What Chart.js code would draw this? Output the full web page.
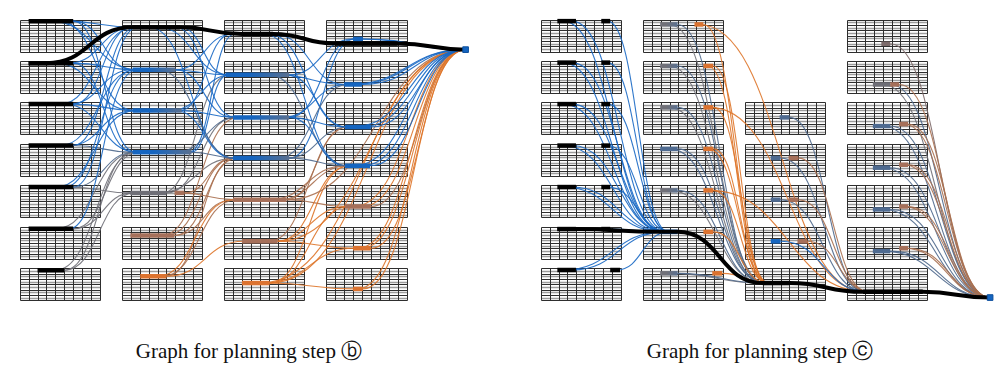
<!DOCTYPE html>
<html>
<head>
<meta charset="utf-8">
<script src="https://cdn.jsdelivr.net/npm/chart.js@4.4.1/dist/chart.umd.min.js"></script>
<style>
  body { margin: 0; background: #fff; }
  #wrap { position: relative; width: 1000px; height: 365px; overflow: hidden; }
  .panel { position: absolute; top: 0; height: 320px; }
  .cap { position: absolute; top: 337px; width: 400px; text-align: center;
         font-family: "Liberation Serif", "DejaVu Serif", serif; font-size: 21px; color: #111; }
</style>
</head>
<body>
<div id="wrap">
  <div class="panel" style="left:0;width:500px"><canvas id="graphB"></canvas></div>
  <div class="panel" style="left:521px;width:479px"><canvas id="graphC"></canvas></div>
  <div class="cap" style="left:49px">Graph for planning step ⓑ</div>
  <div class="cap" style="left:560px">Graph for planning step ⓒ</div>
</div>
<script>
// which table rows exist in each layer (layer index -> rows)
const blockRowsB = [[0,1,2,3,4,5,6],[0,1,2,3,4,5,6],[0,1,2,3,4,5,6],[0,1,2,3,4,5,6]];
const blockRowsC = [[0,1,2,3,4,5,6],[0,1,2,3,4,5,6],[2,3,4,5,6],[0,1,2,3,4,5,6]];

// nodes: [id, layer, row, cellFrom, cellTo, subRow, kind]
const nodesB = [
  ['A0',0,0,1.0,6.0,0.6,'k'], ['A1',0,1,1.0,6.0,0.8,'k'], ['A2',0,2,1.0,6.0,0.6,'k'],
  ['A3',0,3,1.0,6.0,0.6,'k'], ['A4',0,4,1.0,6.0,0.6,'k'], ['A5',0,5,1.0,6.0,0.7,'k'],
  ['A6',0,6,2.0,5.0,0.7,'k'],
  ['B0',1,0,1.2,6.5,2.9,'k'], ['B1',1,1,1.2,6.0,3.3,'bs'], ['B2',1,2,1.2,6.7,3.05,'bs'],
  ['B3',1,3,1.2,7.8,3.1,'bs'], ['B4',1,4,0.95,5.0,2.8,'g'], ['B4x',1,4,5.9,7.0,2.8,'n'],
  ['B5',1,5,0.95,5.9,3.2,'n'], ['B6',1,6,2.05,5.0,2.95,'o'],
  ['C0',2,0,2.0,5.5,5.45,'k'], ['C1',2,1,0.15,7.3,5.2,'bs'], ['C2',2,2,1.0,7.3,5.6,'bs'],
  ['C3',2,3,1.0,7.3,5.3,'bs'], ['C4',2,4,1.0,7.0,5.35,'n'], ['C5',2,5,2.0,6.0,5.4,'n'],
  ['C6',2,6,2.0,5.1,5.5,'o'],
  ['D0',3,0,1.0,8.0,9.0,'k'], ['D0x',3,0,3.0,4.1,7.3,'b'], ['D1',3,1,2.0,4.0,8.8,'b'],
  ['D2',3,2,2.1,5.0,9.2,'b'], ['D3',3,3,2.1,4.9,8.2,'b'], ['D4',3,4,2.1,5.0,7.9,'n'],
  ['D5',3,5,3.0,5.0,8.0,'o'], ['D6',3,6,3.0,4.1,7.7,'o'],
  ['Z',4,0,4.16,4.16,11.3,'sink']
];

// edges: [from, fromCell, to, toCell, kind]
const edgesB = [
  ['A5',4.0,'B3',1.5,'g'], ['A5',6.0,'B3',1.9,'g'], ['A5',6.0,'B4',1.2,'g'],
  ['A6',4.0,'B3',1.6,'g'], ['A6',5.0,'B3',1.3,'g'], ['A6',5.0,'B4',1.4,'g'], ['A4',5.5,'B4',1.0,'g'],
  ['A0',5.0,'B0',1.5,'b'], ['A0',6.0,'B1',1.3,'b'], ['A0',4.5,'B2',1.4,'b'], ['A0',6.0,'B3',1.6,'b'],
  ['A0',3.5,'B1',1.8,'b'],
  ['A1',5.5,'B0',1.3,'b'], ['A1',6.0,'B1',1.5,'b'], ['A1',4.0,'B2',1.2,'b'], ['A1',6.0,'B3',1.3,'b'],
  ['A2',4.5,'B0',1.4,'b'], ['A2',6.0,'B0',1.2,'b'], ['A2',5.5,'B1',1.2,'b'], ['A2',6.0,'B2',1.6,'b'],
  ['A2',5.0,'B3',1.8,'b'],
  ['A3',6.0,'B0',1.6,'b'], ['A3',4.5,'B1',1.6,'b'], ['A3',5.5,'B2',1.3,'b'], ['A3',6.0,'B3',1.2,'s'],
  ['A4',6.0,'B0',1.8,'b'], ['A4',5.0,'B1',1.4,'b'], ['A4',4.0,'B2',1.5,'b'], ['A4',6.0,'B3',1.4,'s'],
  ['A5',5.5,'B1',1.7,'b'],
  ['B4',4.5,'C1',0.6,'g'], ['B4',5.0,'C2',1.2,'g'], ['B4',4.0,'C3',1.2,'g'],
  ['B4x',7.0,'C3',1.0,'n'], ['B4x',6.5,'C4',1.2,'n'],
  ['B5',5.0,'C3',1.1,'n'], ['B5',5.9,'C3',1.5,'n'], ['B5',5.9,'C4',1.0,'n'], ['B5',4.5,'C2',1.6,'n'],
  ['B6',5.0,'C3',1.3,'n'], ['B6',4.5,'C4',1.4,'n'], ['B6',5.0,'C5',2.2,'o'], ['B6',4.0,'C4',1.0,'o'],
  ['B0',4.0,'C1',0.5,'b'], ['B0',6.0,'C2',1.2,'b'], ['B0',3.0,'C3',1.0,'b'], ['B0',6.5,'C1',0.3,'b'],
  ['B1',6.0,'C0',1.0,'b'], ['B1',5.5,'C1',0.5,'b'], ['B1',6.0,'C2',1.0,'b'], ['B1',4.0,'C3',1.2,'s'],
  ['B2',6.5,'C0',0.8,'b'], ['B2',5.5,'C1',0.8,'b'], ['B2',6.7,'C2',1.3,'b'], ['B2',6.0,'C3',1.0,'b'],
  ['B3',7.5,'C0',1.2,'b'], ['B3',7.8,'C1',0.4,'b'], ['B3',6.0,'C2',1.5,'s'], ['B3',7.8,'C3',1.4,'s'],
  ['C4',7.0,'D2',2.3,'n'], ['C4',6.0,'D3',2.5,'n'], ['C4',7.0,'D4',2.2,'n'], ['C4',5.0,'D3',2.2,'n'],
  ['C5',6.0,'D3',2.6,'o'], ['C5',5.5,'D4',2.4,'o'], ['C5',6.0,'D5',3.1,'o'], ['C5',5.0,'D2',2.5,'n'],
  ['C6',5.1,'D4',2.6,'o'], ['C6',4.5,'D5',3.2,'o'], ['C6',5.0,'D6',3.1,'o'], ['C6',5.1,'D3',2.6,'o'],
  ['C0',5.5,'D1',2.1,'b'], ['C0',5.0,'D2',2.2,'b'], ['C0',4.5,'D3',2.2,'b'],
  ['C1',7.3,'D0x',3.0,'b'], ['C1',6.0,'D1',2.2,'b'], ['C1',7.0,'D2',2.3,'b'], ['C1',5.0,'D3',2.3,'s'],
  ['C2',7.3,'D0x',3.1,'b'], ['C2',6.5,'D1',2.3,'b'], ['C2',7.0,'D2',2.4,'b'], ['C2',7.3,'D3',2.2,'b'],
  ['C3',7.3,'D0x',3.2,'b'], ['C3',6.0,'D1',2.4,'s'], ['C3',7.0,'D2',2.5,'s'], ['C3',7.3,'D3',2.4,'s'],
  ['C4',7.0,'Z',4.16,'n'], ['C5',6.0,'Z',4.16,'o'], ['C6',5.1,'Z',4.16,'o'], ['C6',4.0,'Z',4.16,'o'],
  ['D4',5.0,'Z',4.16,'n'], ['D4',4.0,'Z',4.16,'o'], ['D4',3.0,'Z',4.16,'o'],
  ['D5',5.0,'Z',4.16,'o'], ['D5',4.0,'Z',4.16,'o'], ['D5',3.5,'Z',4.16,'o'],
  ['D6',4.1,'Z',4.16,'o'], ['D6',3.5,'Z',4.16,'o'],
  ['D0x',4.1,'Z',4.16,'b'], ['D0x',3.5,'Z',4.16,'b'],
  ['D1',4.0,'Z',4.16,'b'], ['D1',3.0,'Z',4.16,'b'], ['D1',2.5,'Z',4.16,'b'],
  ['D2',5.0,'Z',4.16,'b'], ['D2',4.0,'Z',4.16,'b'], ['D2',3.0,'Z',4.16,'b'],
  ['D3',4.9,'Z',4.16,'b'], ['D3',4.0,'Z',4.16,'b'], ['D3',3.0,'Z',4.16,'b']
];

// highlighted path: [node, cellIn, cellOut]
const pathB = [['A1',1.0,3.0], ['B0',1.2,6.5], ['C0',2.0,5.5], ['D0',1.0,8.0], ['Z',4.16,4.16]];

const nodesC = [
  ['A0a',0,0,1.87,3.96,0.6,'k'], ['A0b',0,0,6.8,7.8,0.6,'k'],
  ['A1a',0,1,1.87,3.96,0.6,'k'], ['A1b',0,1,6.8,7.8,0.6,'k'],
  ['A2a',0,2,1.87,3.96,0.6,'k'], ['A2b',0,2,6.8,7.8,0.6,'k'],
  ['A3a',0,3,1.87,3.96,0.6,'k'], ['A3b',0,3,6.8,7.8,0.6,'k'],
  ['A4a',0,4,1.87,3.96,0.6,'k'], ['A4b',0,4,6.8,7.8,0.6,'k'],
  ['A5a',0,5,1.87,3.96,0.8,'k'], ['A5b',0,5,6.8,7.8,0.8,'k'],
  ['A6a',0,6,1.87,3.96,0.6,'k'], ['A6b',0,6,7.8,8.9,0.6,'k'],
  ['B0g',1,0,1.95,3.9,1.85,'gs'], ['B0o',1,0,5.8,6.8,1.85,'o'],
  ['B1g',1,1,1.95,3.9,1.85,'gs'], ['B1o',1,1,6.8,7.9,1.85,'o'],
  ['B2g',1,2,1.95,3.9,1.85,'gs'], ['B2o',1,2,6.8,7.9,1.85,'o'],
  ['B3g',1,3,1.95,3.9,1.85,'s'],  ['B3o',1,3,6.8,7.9,1.85,'o'],
  ['B4g',1,4,1.95,3.9,1.85,'gs'], ['B4o',1,4,6.8,7.9,1.85,'o'],
  ['B5g',1,5,1.95,3.9,1.85,'b'],  ['B5o',1,5,6.8,7.9,1.85,'o'],
  ['B6g',1,6,1.95,3.9,1.85,'gs'], ['B6o',1,6,7.8,8.9,1.85,'o'],
  ['C2',2,2,3.9,5.0,5.6,'s'],
  ['C3b',2,3,2.9,4.0,5.3,'s'], ['C3n',2,3,4.9,6.0,5.3,'n'],
  ['C4b',2,4,2.9,4.0,5.35,'s'], ['C4n',2,4,4.9,6.0,5.35,'n'],
  ['C5b',2,5,2.9,4.0,5.4,'b'], ['C5n',2,5,5.9,7.0,5.4,'n'],
  ['C6',2,6,2.0,5.0,5.5,'k'],
  ['D0',3,0,3.85,4.85,9.1,'gn'],
  ['D1g',3,1,2.9,4.85,8.8,'g'], ['D1n',3,1,4.85,5.85,8.8,'n'],
  ['D2g',3,2,2.9,4.85,8.85,'s'], ['D2o',3,2,5.85,6.85,8.1,'n'],
  ['D3g',3,3,2.9,4.85,8.9,'s'], ['D3o',3,3,5.85,6.85,7.8,'n'],
  ['D4g',3,4,2.9,4.85,9.0,'s'], ['D4o',3,4,5.85,6.85,7.9,'n'],
  ['D5g',3,5,2.9,4.85,9.1,'s'], ['D5o',3,5,5.85,6.85,8.0,'n'],
  ['D6',3,6,1.8,8.5,8.8,'k'],
  ['Z',4,6,4.6,4.6,10.94,'sink']
];

const edgesC = [
  ['B0g',3.0,'C6',2.3,'g'], ['B0g',3.9,'C6',2.0,'s'], ['B0o',6.8,'C6',2.6,'o'],
  ['B1g',3.0,'C6',2.3,'g'], ['B1g',3.9,'C6',2.1,'s'], ['B1o',7.9,'C6',2.6,'o'], ['B1o',7.3,'C6',2.4,'o'],
  ['B2g',3.0,'C6',2.2,'g'], ['B2g',3.9,'C6',2.0,'s'], ['B2o',7.9,'C6',2.7,'o'],
  ['B3g',3.0,'C6',2.3,'s'], ['B3g',3.9,'C6',2.1,'s'], ['B3o',7.9,'C6',2.5,'o'], ['B3o',7.3,'C6',2.8,'o'],
  ['B4g',3.0,'C6',2.2,'g'], ['B4g',3.9,'C6',2.0,'s'], ['B4o',7.9,'C6',2.6,'o'],
  ['B5o',7.9,'C6',2.5,'o'], ['B5g',3.9,'C6',2.2,'b'],
  ['B6g',3.0,'C6',2.1,'g'], ['B6g',3.9,'C6',2.3,'s'], ['B6o',8.9,'C6',2.7,'o'],
  ['B0o',6.3,'D6',2.0,'o'], ['B2o',7.5,'D6',2.2,'o'], ['B4o',7.5,'D6',2.3,'o'],
  ['A0a',2.5,'B5g',2.3,'b'], ['A0a',3.5,'B5g',2.6,'b'], ['A0b',7.5,'B5g',2.9,'b'],
  ['A1a',2.5,'B5g',2.2,'b'], ['A1a',3.5,'B5g',2.5,'b'], ['A1b',7.5,'B5g',2.8,'b'],
  ['A2a',2.5,'B5g',2.4,'b'], ['A2a',3.5,'B5g',2.7,'b'], ['A2b',7.5,'B5g',3.0,'b'],
  ['A3a',2.5,'B5g',2.3,'b'], ['A3a',3.5,'B5g',2.6,'b'], ['A3b',7.5,'B5g',2.9,'b'],
  ['A4a',2.5,'B5g',2.2,'b'], ['A4a',3.5,'B5g',2.5,'b'], ['A4b',7.5,'B5g',2.8,'b'],
  ['A5b',7.5,'B5g',2.4,'b'],
  ['A6a',2.5,'B5g',2.3,'b'], ['A6a',3.5,'B5g',2.6,'b'], ['A6b',8.5,'B5g',2.9,'b'],
  ['C2',5.0,'D6',2.0,'s'], ['C3b',4.0,'D6',2.2,'s'], ['C3n',6.0,'D6',2.4,'n'],
  ['C4b',4.0,'D6',2.1,'s'], ['C4n',6.0,'D6',2.5,'n'], ['C5b',4.0,'D6',2.3,'b'], ['C5n',7.0,'D6',2.6,'n'],
  ['D0',4.85,'Z',4.6,'gn'],
  ['D1g',4.0,'Z',4.6,'g'], ['D1g',4.85,'Z',4.6,'s'], ['D1n',5.85,'Z',4.6,'n'],
  ['D2g',4.0,'Z',4.6,'s'], ['D2g',4.85,'Z',4.6,'s'], ['D2o',6.4,'Z',4.6,'n'], ['D2o',6.85,'Z',4.6,'n'],
  ['D3g',4.0,'Z',4.6,'s'], ['D3g',4.85,'Z',4.6,'s'], ['D3o',6.4,'Z',4.6,'n'], ['D3o',6.85,'Z',4.6,'n'],
  ['D4g',4.0,'Z',4.6,'s'], ['D4g',4.85,'Z',4.6,'s'], ['D4o',6.4,'Z',4.6,'n'], ['D4o',6.85,'Z',4.6,'n'],
  ['D5g',4.0,'Z',4.6,'s'], ['D5g',4.85,'Z',4.6,'s'], ['D5o',6.4,'Z',4.6,'n'], ['D5o',6.85,'Z',4.6,'n']
];

const pathC = [['A5a',1.87,3.96], ['B5g',1.95,3.9], ['C6',2.0,5.0], ['D6',1.8,8.5], ['Z',4.6,4.6]];

// layout of the tables, in cell / sub-row units
const LAYER_PITCH = 11.46;
const ROW_PITCH = 15.57;
const CELLS = 9, SUBROWS = 12;

const edgeColors = {
  b: 'rgba(24,104,196,0.9)', s: 'rgba(78,104,140,0.9)', g: 'rgba(112,112,120,0.9)',
  n: 'rgba(170,112,80,0.9)', o: 'rgba(222,118,42,0.9)', gn: 'rgba(125,105,105,0.9)'
};
const barColors = {
  k: '#000', b: '#1565c0', s: '#4e6a90', g: '#6e6e76', n: '#a6705a', o: '#dc7330', gn: '#7d6b6b'
};

const gx = (layer, cell) => layer * LAYER_PITCH + cell;
const gy = (row, sub) => row * ROW_PITCH + sub;

function graphPlugin(blockRows, nodes, edges, path) {
  const byId = {};
  nodes.forEach(n => { byId[n[0]] = n; });
  return {
    id: 'graph',
    beforeDatasetsDraw(chart) {
      const ctx = chart.ctx, xs = chart.scales.x, ys = chart.scales.y;
      const px = (l, c) => xs.getPixelForValue(gx(l, c));
      const py = (r, s) => ys.getPixelForValue(gy(r, s));
      const pt = (id, cell) => { const n = byId[id]; return { x: px(n[1], cell), y: py(n[2], n[5]) }; };
      ctx.save();

      // tables: dark rules with grey bands between them
      blockRows.forEach((rows, layer) => {
        rows.forEach(row => {
          const x0 = Math.round(px(layer, 0)) + 0.5, x1 = Math.round(px(layer, CELLS)) + 0.5;
          const y0 = Math.round(py(row, 0)) + 0.5, y1 = Math.round(py(row, SUBROWS)) + 0.5;
          for (let i = 1; i < SUBROWS; i++) {
            const y = Math.round(py(row, i)) + 0.5;
            if (i % 2) { ctx.strokeStyle = '#9c9c9c'; ctx.lineWidth = 1.6; }
            else { ctx.strokeStyle = '#2e2e2e'; ctx.lineWidth = 1; }
            ctx.beginPath(); ctx.moveTo(x0, y); ctx.lineTo(x1, y); ctx.stroke();
          }
          ctx.strokeStyle = '#2e2e2e';
          ctx.lineWidth = 1;
          for (let i = 0; i <= CELLS; i++) {
            const x = Math.round(px(layer, i)) + 0.5;
            ctx.beginPath(); ctx.moveTo(x, y0); ctx.lineTo(x, y1); ctx.stroke();
          }
          ctx.beginPath(); ctx.moveTo(x0, y0); ctx.lineTo(x1, y0);
          ctx.moveTo(x0, y1); ctx.lineTo(x1, y1); ctx.stroke();
        });
      });

      // edges
      ctx.lineWidth = 1.1;
      edges.forEach(e => {
        const p = pt(e[0], e[1]), q = pt(e[2], e[3]);
        const d = (q.x - p.x) * 0.5;
        ctx.strokeStyle = edgeColors[e[4]];
        ctx.beginPath();
        ctx.moveTo(p.x, p.y);
        ctx.bezierCurveTo(p.x + d, p.y, q.x - d, q.y, q.x, q.y);
        ctx.stroke();
      });

      // highlighted cells
      ctx.lineWidth = 4.5;
      ctx.lineCap = 'butt';
      nodes.forEach(n => {
        if (n[6] === 'sink') return;
        const p = pt(n[0], n[3]), q = pt(n[0], n[4]);
        let col = barColors[n[6]];
        if (n[6] === 'bs' || n[6] === 'gs') {
          col = ctx.createLinearGradient(p.x, 0, q.x, 0);
          col.addColorStop(0, n[6] === 'bs' ? '#1565c0' : '#707078');
          col.addColorStop(0.35, n[6] === 'bs' ? '#1565c0' : '#707078');
          col.addColorStop(1, '#5a7090');
        }
        ctx.strokeStyle = col;
        ctx.beginPath(); ctx.moveTo(p.x, p.y); ctx.lineTo(q.x, q.y); ctx.stroke();
      });

      // best path
      ctx.strokeStyle = '#000';
      ctx.lineWidth = 4;
      ctx.lineJoin = 'round';
      ctx.beginPath();
      path.forEach((s, i) => {
        const a = pt(s[0], s[1]), b = pt(s[0], s[2]);
        if (i === 0) ctx.moveTo(a.x, a.y);
        else {
          const prev = pt(path[i - 1][0], path[i - 1][2]);
          const d = (a.x - prev.x) * 0.5;
          ctx.bezierCurveTo(prev.x + d, prev.y, a.x - d, a.y, a.x, a.y);
        }
        ctx.lineTo(b.x, b.y);
      });
      ctx.stroke();
      ctx.restore();
    }
  };
}

function createGraph(canvasId, blockRows, nodes, edges, path, xMax) {
  const sink = nodes.find(n => n[6] === 'sink');
  return new Chart(document.getElementById(canvasId), {
    type: 'scatter',
    data: {
      datasets: [{
        data: [{ x: gx(sink[1], sink[3]), y: gy(sink[2], sink[5]) }],
        pointStyle: 'rect',
        pointRadius: 4,
        backgroundColor: '#1565c0',
        borderColor: '#0d4f9c',
        borderWidth: 1
      }]
    },
    options: {
      responsive: true,
      maintainAspectRatio: false,
      animation: false,
      events: [],
      layout: { padding: 0 },
      plugins: { legend: { display: false }, tooltip: { enabled: false } },
      scales: {
        x: { type: 'linear', display: false, min: -15 / 9.1, max: xMax },
        y: { type: 'linear', display: false, reverse: true, min: -15 / 2.75, max: 305 / 2.75 }
      }
    },
    plugins: [graphPlugin(blockRows, nodes, edges, path)]
  });
}

const chartB = createGraph('graphB', blockRowsB, nodesB, edgesB, pathB, 485 / 9.1);
const chartC = createGraph('graphC', blockRowsC, nodesC, edgesC, pathC, 464 / 9.1);
</script>
</body>
</html>
